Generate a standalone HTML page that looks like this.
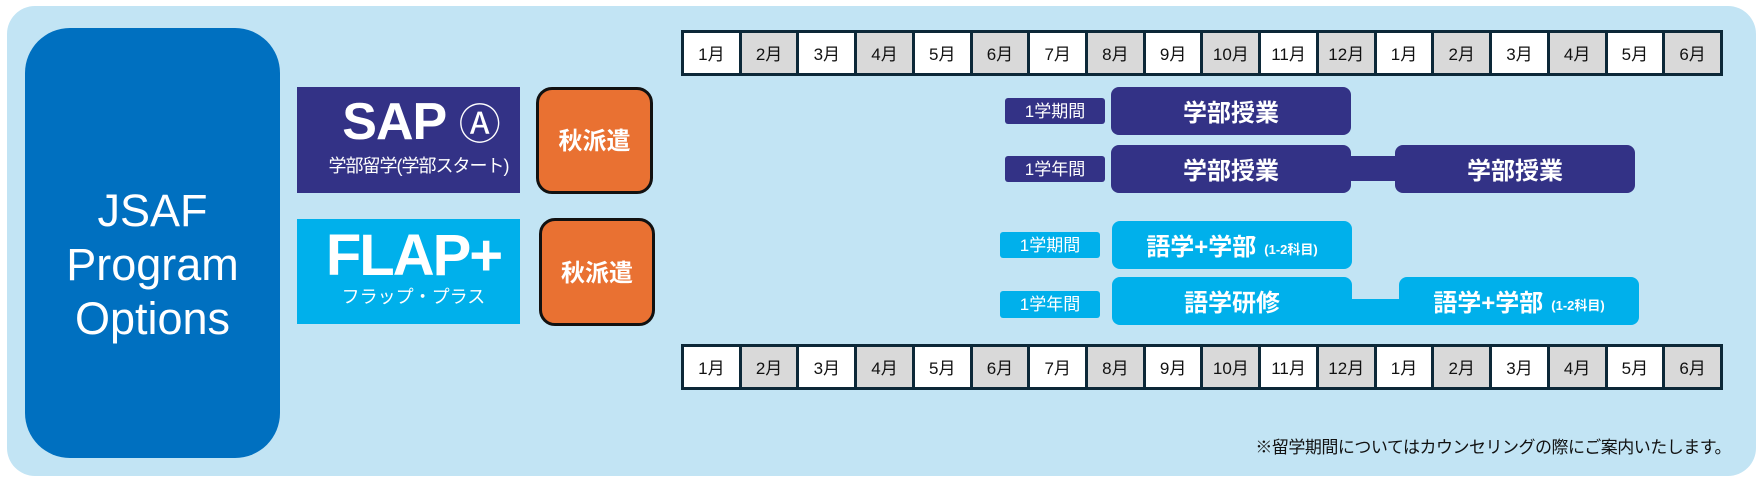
<!DOCTYPE html>
<html><head><meta charset="utf-8"><style>
*{margin:0;padding:0;box-sizing:border-box}
body{width:1764px;height:487px;background:#fff;position:relative;overflow:hidden;font-family:"Liberation Sans","Noto Sans CJK JP",sans-serif}
.a{position:absolute}
.bg{left:7px;top:6px;width:1749px;height:470px;background:#c2e4f4;border-radius:28px}
.main{left:25px;top:28px;width:255px;height:430px;background:#0070c0;border-radius:45px;color:#fff;font-size:45px;line-height:54px;text-align:center;padding-top:156px}
.prog{color:#fff;text-align:center}
.or{background:#e97132;border:3px solid #111;border-radius:16px;color:#fff;font-weight:bold;font-size:24px;display:flex;align-items:center;justify-content:center;padding-bottom:4px}
.bar{left:681px;width:1042px;height:46px;background:#0c2838;display:flex;padding:3px;gap:3px}
.bar div{flex:1;background:#fff;font-size:17px;display:flex;align-items:center;justify-content:center;color:#111;padding-bottom:1px}
.bar div.g{background:#d9d9d9}
.lbl{color:#fff;font-size:17px;line-height:20px;display:flex;align-items:center;justify-content:center;border-radius:3px;padding-top:1px}
.box{color:#fff;font-weight:bold;font-size:24px;display:flex;align-items:center;justify-content:center;border-radius:8px;padding-bottom:2px}
.n{background:#333286}.c{background:#00b0eb}
small{font-size:13px;margin-left:8px;position:relative;top:4px}
</style></head><body>
<div class="a bg"></div>
<div class="a main">JSAF<br>Program<br>Options</div>
<div class="a n prog" style="left:297px;top:87px;width:223px;height:106px">
 <div style="font-size:52px;font-weight:bold;line-height:50px;margin-top:10px;padding-left:25px;letter-spacing:-1px">SAP <span style="font-size:42px;font-weight:normal">Ⓐ</span></div>
 <div style="font-size:18px;margin-top:2px;padding-left:20px;letter-spacing:-1px">学部留学(学部スタート)</div>
</div>
<div class="a c prog" style="left:297px;top:219px;width:223px;height:105px">
 <div style="font-size:58px;font-weight:bold;line-height:54px;margin-top:10px;padding-left:10px;letter-spacing:-2px">FLAP+</div>
 <div style="font-size:18px;margin-top:0px;padding-left:10px">フラップ・プラス</div>
</div>
<div class="a or" style="left:536px;top:87px;width:117px;height:107px">秋派遣</div>
<div class="a or" style="left:539px;top:218px;width:116px;height:108px">秋派遣</div>

<div class="a bar" style="top:30px"><div>1月</div><div class="g">2月</div><div>3月</div><div class="g">4月</div><div>5月</div><div class="g">6月</div><div>7月</div><div class="g">8月</div><div>9月</div><div class="g">10月</div><div>11月</div><div class="g">12月</div><div>1月</div><div class="g">2月</div><div>3月</div><div class="g">4月</div><div>5月</div><div class="g">6月</div></div>
<div class="a bar" style="top:344px"><div>1月</div><div class="g">2月</div><div>3月</div><div class="g">4月</div><div>5月</div><div class="g">6月</div><div>7月</div><div class="g">8月</div><div>9月</div><div class="g">10月</div><div>11月</div><div class="g">12月</div><div>1月</div><div class="g">2月</div><div>3月</div><div class="g">4月</div><div>5月</div><div class="g">6月</div></div>

<div class="a lbl n" style="left:1005px;top:98px;width:100px;height:26px">1学期間</div>
<div class="a box n" style="left:1111px;top:87px;width:240px;height:48px">学部授業</div>
<div class="a lbl n" style="left:1005px;top:156px;width:100px;height:26px">1学年間</div>
<div class="a n" style="left:1340px;top:156px;width:65px;height:25px"></div>
<div class="a box n" style="left:1111px;top:145px;width:240px;height:48px">学部授業</div>
<div class="a box n" style="left:1395px;top:145px;width:240px;height:48px">学部授業</div>

<div class="a lbl c" style="left:1000px;top:232px;width:100px;height:26px">1学期間</div>
<div class="a box c" style="left:1112px;top:221px;width:240px;height:48px">語学+学部<small>(1-2科目)</small></div>
<div class="a lbl c" style="left:1000px;top:291px;width:100px;height:27px">1学年間</div>
<div class="a c" style="left:1340px;top:299px;width:70px;height:26px"></div>
<div class="a box c" style="left:1112px;top:277px;width:240px;height:48px;border-bottom-right-radius:0">語学研修</div>
<div class="a box c" style="left:1399px;top:277px;width:240px;height:48px">語学+学部<small>(1-2科目)</small></div>

<div class="a" style="right:33px;top:433px;font-size:17px;color:#111;white-space:nowrap;letter-spacing:-0.5px">※留学期間についてはカウンセリングの際にご案内いたします。</div>
</body></html>
